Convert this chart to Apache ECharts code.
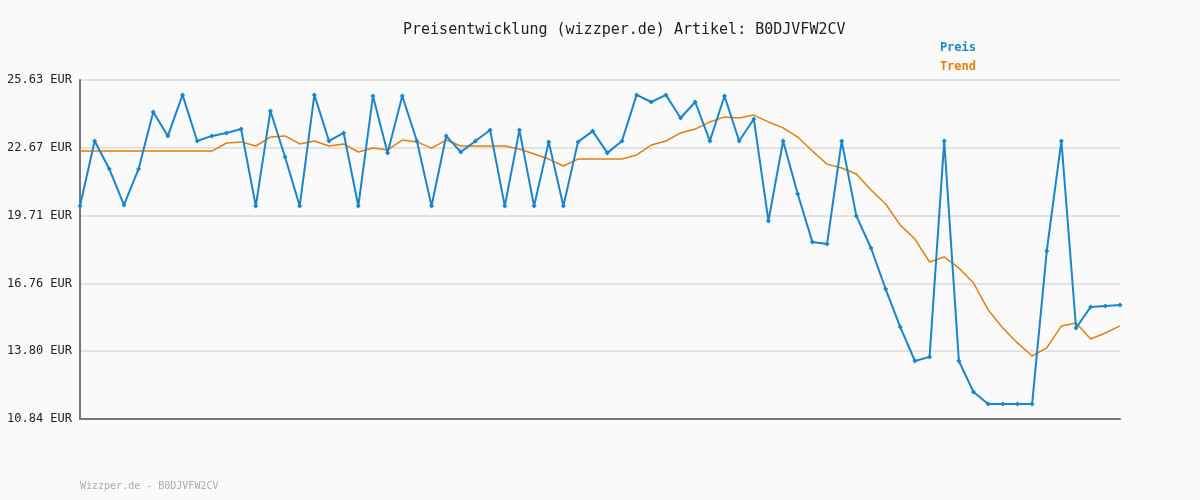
<!DOCTYPE html>
<html>
<head>
<meta charset="utf-8">
<script src="https://cdn.jsdelivr.net/npm/echarts@6/dist/echarts.min.js"></script>
<style>html,body{margin:0;padding:0;background:#fafafa}#chart{width:1200px;height:500px}</style>
</head>
<body>
<div id="chart"></div>
<script>
// Preis- und Trendwerte
var preis = [20.13, 22.97, 21.75, 20.18, 21.75, 24.23, 23.19, 24.98, 22.97, 23.19, 23.32, 23.49, 20.13, 24.28, 22.27, 20.13, 24.98, 22.97, 23.32, 20.13,
  24.93, 22.45, 24.93, 22.97, 20.13, 23.19, 22.49, 22.97, 23.45, 20.13, 23.45, 20.13, 22.93, 20.13, 22.93, 23.40, 22.45, 22.97, 24.98, 24.67,
  24.98, 23.97, 24.67, 22.97, 24.93, 22.97, 23.93, 19.48, 22.97, 20.66, 18.56, 18.47, 22.97, 19.70, 18.30, 16.51, 14.85, 13.37, 13.55, 22.97,
  13.37, 12.02, 11.49, 11.49, 11.49, 11.49, 18.17, 22.97, 14.81, 15.73, 15.77, 15.81];
var trend = [22.53, 22.53, 22.53, 22.53, 22.53, 22.53, 22.53, 22.53, 22.53, 22.53, 22.88, 22.93, 22.75, 23.14, 23.19, 22.84, 22.97, 22.75, 22.84, 22.49,
  22.66, 22.58, 23.01, 22.93, 22.66, 23.01, 22.75, 22.75, 22.75, 22.75, 22.62, 22.40, 22.18, 21.88, 22.18, 22.18, 22.18, 22.18, 22.36, 22.79,
  22.97, 23.32, 23.49, 23.80, 24.02, 23.97, 24.10, 23.80, 23.54, 23.14, 22.53, 21.96, 21.79, 21.53, 20.83, 20.22, 19.30, 18.69, 17.69, 17.91,
  17.43, 16.77, 15.60, 14.81, 14.16, 13.59, 13.94, 14.90, 15.03, 14.33, 14.59, 14.90];
var tickLabels = ['10.84 EUR', '13.80 EUR', '16.76 EUR', '19.71 EUR', '22.67 EUR', '25.63 EUR'];
var idx = preis.map(function (v, i) { return i; });

var chart = echarts.init(document.getElementById('chart'));
var mono = 'DejaVu Sans Mono';
chart.setOption({
  backgroundColor: '#fafafa',
  animation: false,
  title: {
    text: 'Preisentwicklung (wizzper.de) Artikel: B0DJVFW2CV',
    left: 398, top: 18,
    textStyle: { fontFamily: mono, fontSize: 15, fontWeight: 'normal', color: '#222' }
  },
  legend: {
    right: 219, top: 36, orient: 'vertical', itemGap: 6, icon: 'none', itemWidth: 0,
    textStyle: { fontFamily: mono, fontSize: 12, fontWeight: 'bold', color: 'inherit' },
    data: ['Preis', 'Trend']
  },
  graphic: [{
    type: 'text', left: 80, top: 481,
    style: { text: 'Wizzper.de - B0DJVFW2CV', fontFamily: mono, fontSize: 10, fill: '#aaa' }
  }],
  grid: { left: 80, right: 80, top: 80, bottom: 81 },
  xAxis: {
    type: 'category', data: idx, boundaryGap: false,
    axisLine: { lineStyle: { color: '#777', width: 2 } },
    axisTick: { show: false }, axisLabel: { show: false }
  },
  yAxis: [{
    type: 'value', min: 0, max: 5, interval: 1,
    axisLine: { show: true, lineStyle: { color: '#777', width: 2 } },
    axisTick: { show: false },
    splitLine: { lineStyle: { color: '#e2e2e2', width: 2 } },
    axisLabel: {
      fontFamily: mono, fontSize: 12, color: '#222', margin: 8,
      formatter: function (v) { return tickLabels[v]; }
    }
  }, {
    type: 'value', min: 10.84, max: 25.63, show: false, splitLine: { show: false }
  }],
  series: [{
    name: 'Preis', type: 'line', yAxisIndex: 1, data: preis,
    color: '#1a84cc', symbol: 'diamond', symbolSize: 5,
    lineStyle: { width: 2 }
  }, {
    name: 'Trend', type: 'line', yAxisIndex: 1, data: trend,
    color: '#e07f10', symbol: 'none', lineStyle: { width: 1.5 }, z: 1
  }]
});
</script>
</body>
</html>
